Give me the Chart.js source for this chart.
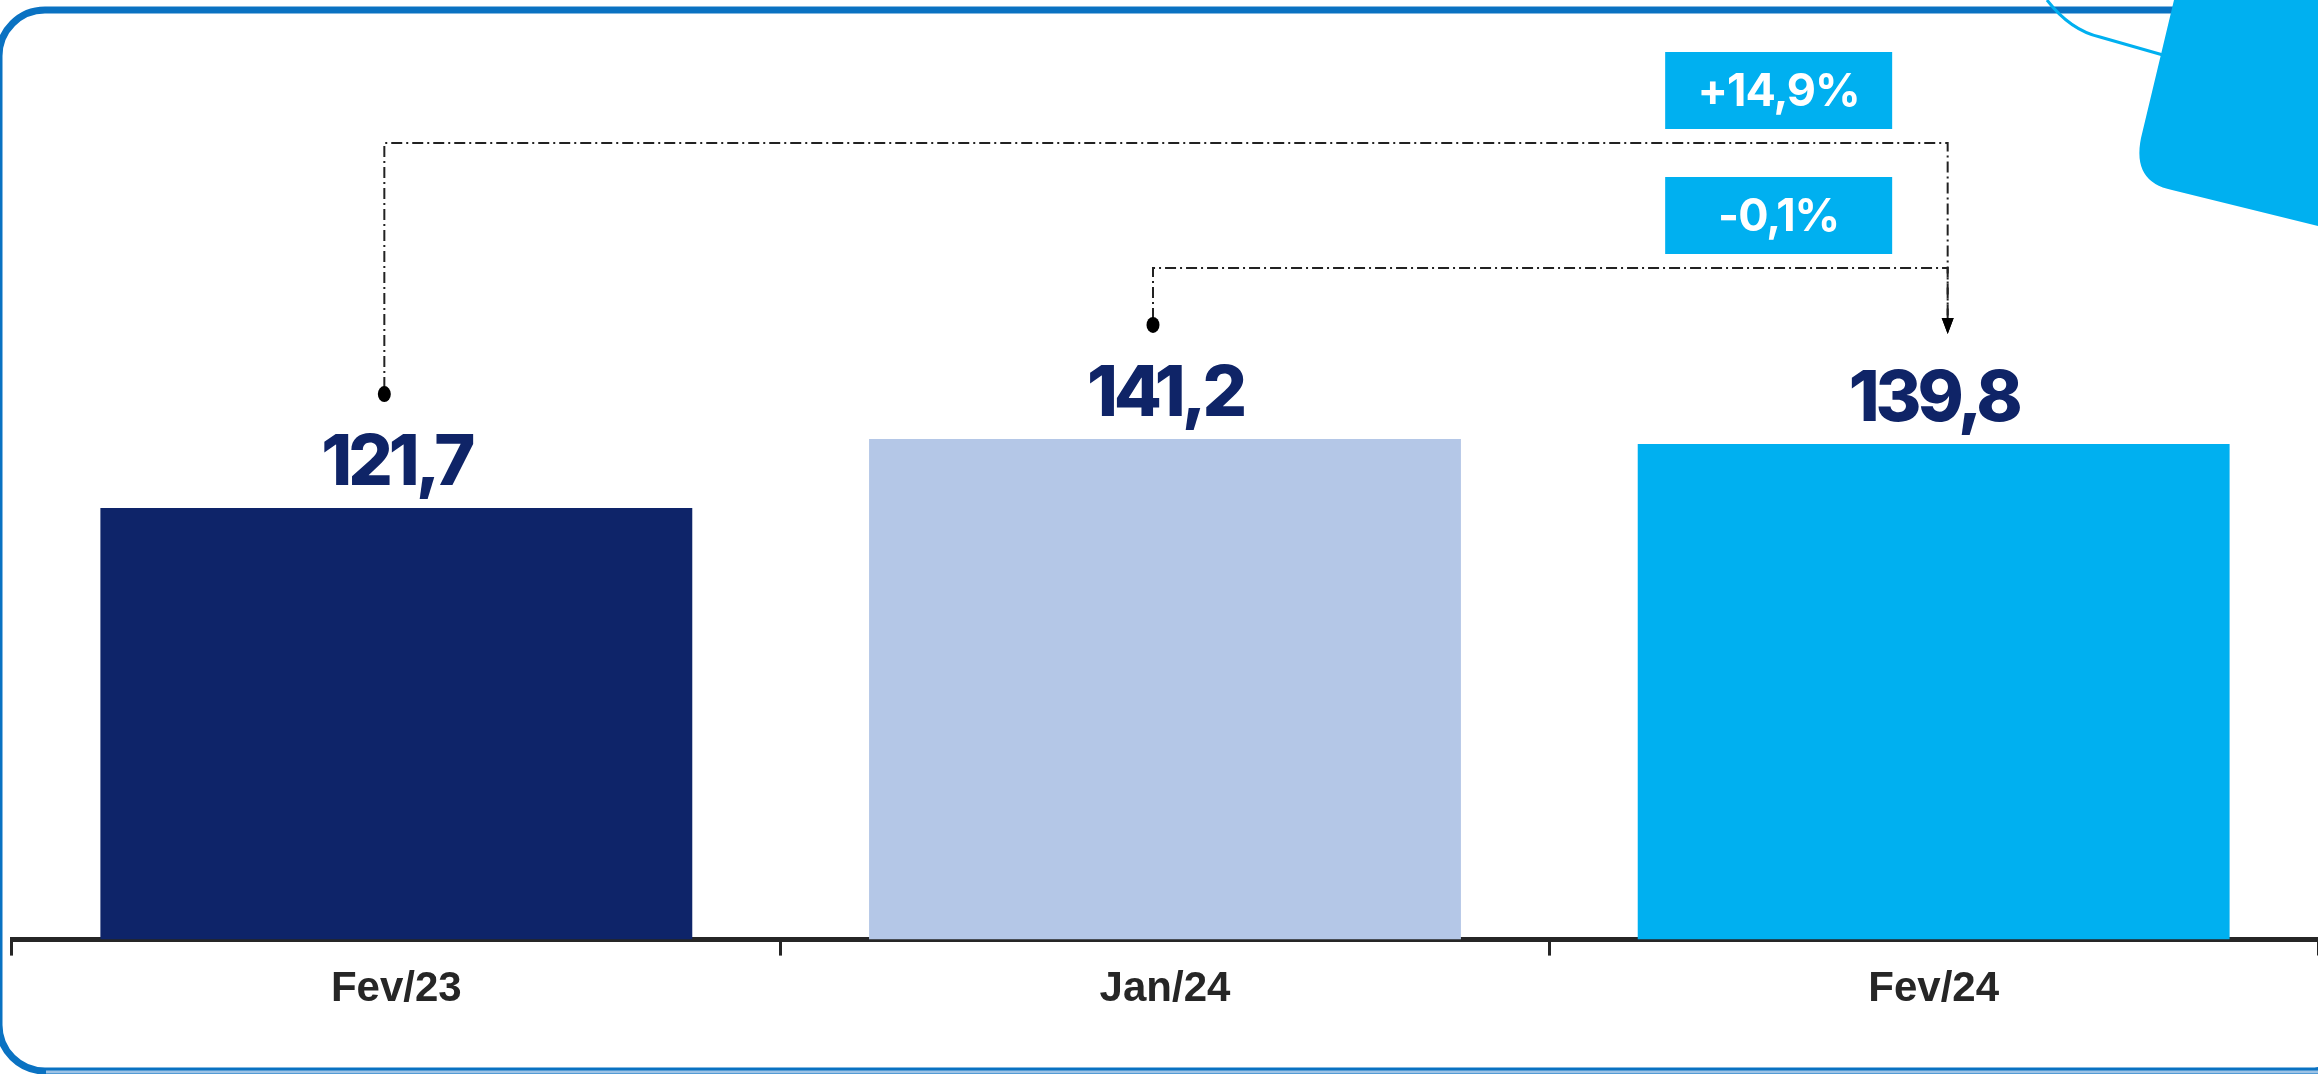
<!DOCTYPE html>
<html>
<head>
<meta charset="utf-8">
<script src="https://cdn.jsdelivr.net/npm/chart.js@4.4.1/dist/chart.umd.min.js"></script>
<style>
  html, body { margin: 0; padding: 0; background: #fff; overflow: hidden; }
  canvas { display: block; }
</style>
</head>
<body>
<canvas id="bar-canvas" width="2318" height="1074"></canvas>
<script>
// data
const categories = ['Fev/23', 'Jan/24', 'Fev/24']
const values = [121.7, 141.2, 139.8]
const barColors = ['#0E2469', '#B4C7E7', '#00B0F0']
const changeFrom = [0, 1]
const changeTo = [2, 2]
const changeLabels = ['+14,9%', '-0,1%']

const fmt = (v) => v.toFixed(1).replace('.', ',')

// frame + decoration in the corner
const framePlugin = {
  id: 'frame',
  beforeDraw(chart) {
    const ctx = chart.ctx
    const w = chart.width
    const h = chart.height
    ctx.save()
    // card border
    ctx.lineWidth = 7
    ctx.strokeStyle = '#0A72C2'
    ctx.beginPath()
    ctx.roundRect(-1, 10, w + 40, h - 13, 46)
    ctx.stroke()
    ctx.strokeStyle = '#9DC3E6'
    ctx.lineWidth = 3
    ctx.beginPath()
    ctx.moveTo(46, h - 2)
    ctx.lineTo(w, h - 2)
    ctx.stroke()
    // thin curve
    ctx.strokeStyle = '#00B0F0'
    ctx.lineWidth = 3
    ctx.beginPath()
    ctx.moveTo(2047, 0)
    ctx.quadraticCurveTo(2070, 30, 2100, 37)
    ctx.lineTo(2170, 57)
    ctx.stroke()
    // tilted rounded shape
    ctx.fillStyle = '#00B0F0'
    ctx.beginPath()
    ctx.moveTo(2174, 0)
    ctx.lineTo(2141, 138)
    ctx.quadraticCurveTo(2132, 182, 2172, 190)
    ctx.lineTo(w, 226)
    ctx.lineTo(w, 0)
    ctx.closePath()
    ctx.fill()
    ctx.restore()
  },
}

// value labels + change brackets
const notesPlugin = {
  id: 'notes',
  afterDatasetsDraw(chart) {
    const ctx = chart.ctx
    const meta = chart.getDatasetMeta(0)
    ctx.save()
    ctx.textAlign = 'center'
    ctx.textBaseline = 'alphabetic'
    ctx.fillStyle = '#0F2467'
    ctx.font = '800 70px Inter'
    ctx.letterSpacing = '-4px'
    meta.data.forEach((bar, i) => {
      ctx.fillText(fmt(values[i]), bar.x, bar.y - 23)
    })
    ctx.letterSpacing = '0px'

    const bracketY = [143, 268]
    changeLabels.forEach((label, k) => {
      const a = meta.data[changeFrom[k]]
      const b = meta.data[changeTo[k]]
      const x1 = a.x - 12
      const x2 = b.x + 14
      const y0 = bracketY[k]
      const dotY = a.y - 114
      const tipY = b.y - 110
      ctx.strokeStyle = '#222'
      ctx.lineWidth = 2
      ctx.setLineDash([11, 4, 2, 4])
      ctx.beginPath()
      ctx.moveTo(x1, dotY - 6)
      ctx.lineTo(x1, y0)
      ctx.lineTo(x2, y0)
      ctx.lineTo(x2, tipY - 14)
      ctx.stroke()
      ctx.setLineDash([])
      ctx.fillStyle = '#000'
      ctx.beginPath()
      ctx.ellipse(x1, dotY, 6.5, 8, 0, 0, Math.PI * 2)
      ctx.fill()
      ctx.beginPath()
      ctx.moveTo(x2 - 6, tipY - 16)
      ctx.lineTo(x2 + 6, tipY - 16)
      ctx.lineTo(x2, tipY)
      ctx.closePath()
      ctx.fill()
      // label box
      const bw = 227
      const bh = 77
      const cx = b.x - 155
      const top = y0 - 14 - bh
      ctx.fillStyle = '#00B0F0'
      ctx.fillRect(cx - bw / 2, top, bw, bh)
      ctx.fillStyle = '#fff'
      ctx.font = '700 45px Inter'
      ctx.letterSpacing = '-1px'
      ctx.textBaseline = 'middle'
      ctx.fillText(label, cx, top + bh / 2 + 2)
      ctx.letterSpacing = '0px'
      ctx.textBaseline = 'alphabetic'
    })
    ctx.restore()
  },
}

const barCanvas = new Chart(document.getElementById('bar-canvas'), {
  type: 'bar',
  data: {
    labels: categories,
    datasets: [
      {
        data: values,
        backgroundColor: barColors,
        barPercentage: 0.77,
        categoryPercentage: 1,
      },
    ],
  },
  options: {
    responsive: false,
    animation: false,
    devicePixelRatio: 1,
    layout: { padding: { left: 12, right: 0, top: 0, bottom: 50 } },
    plugins: {
      legend: { display: false },
      tooltip: { enabled: false },
    },
    scales: {
      y: { display: false, min: 0, max: 265 },
      x: {
        grid: {
          display: true,
          drawOnChartArea: false,
          offset: true,
          tickLength: 16,
          tickWidth: 3,
          tickColor: '#262626',
        },
        border: { display: true, color: '#262626', width: 5 },
        ticks: {
          color: '#262626',
          padding: 9,
          font: { family: "'Liberation Sans Narrow', 'Liberation Sans', Arial", size: 42, weight: 'bold' },
        },
      },
    },
  },
  plugins: [framePlugin, notesPlugin],
})
</script>
</body>
</html>
